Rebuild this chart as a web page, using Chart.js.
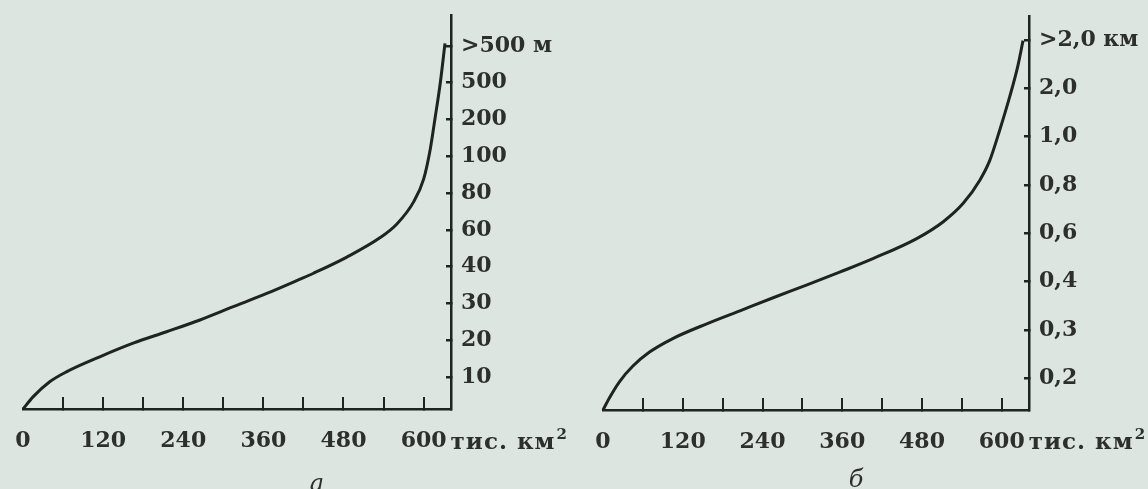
<!DOCTYPE html>
<html>
<head>
<meta charset="utf-8">
<script src="https://cdn.jsdelivr.net/npm/chart.js@4.4.1/dist/chart.umd.min.js"></script>
<style>
  html, body { margin: 0; padding: 0; background: #dde5e1; }
  #wrap { position: relative; width: 1148px; height: 489px; overflow: hidden; }
  canvas { position: absolute; top: 0; }
  #chartA { left: 0; }
  #chartB { left: 580px; }
</style>
</head>
<body>
<div id="wrap">
  <canvas id="chartA" width="580" height="489"></canvas>
  <canvas id="chartB" width="568" height="489"></canvas>
</div>
<script>
// a: площа (тис. км2) вище заданої висоти, висоти в метрах
const areaA  = [0, 15, 40, 65, 115, 165, 215, 265, 315, 365, 415, 435, 485, 535, 560, 585, 600, 610, 617, 625, 632];
const levelA = [0.13, 0.46, 0.87, 1.14, 1.55, 1.92, 2.23, 2.55, 2.91, 3.27, 3.66, 3.82, 4.26, 4.79, 5.16, 5.76, 6.38, 7.2, 8.02, 9.0, 10.07];
const ticksA = ['10', '20', '30', '40', '60', '80', '100', '200', '500', '>500 м'];

// б: те саме, висоти в кілометрах
const areaB  = [0, 10, 25, 45, 70, 105, 157, 207, 257, 307, 357, 407, 472, 512, 542, 567, 582, 597, 612, 624, 632];
const levelB = [0.34, 0.6, 0.93, 1.25, 1.54, 1.82, 2.13, 2.4, 2.67, 2.93, 3.2, 3.48, 3.89, 4.24, 4.62, 5.1, 5.51, 6.14, 6.83, 7.45, 7.99];
const ticksB = ['0,2', '0,3', '0,4', '0,6', '0,8', '1,0', '2,0', '>2,0 км'];

const ink = '#1f2321';
const textInk = '#2c2f2d';
const labelFont = { family: '"DejaVu Serif", serif', size: 22, weight: 'bold' };

// підпис одиниць і літера панелі
const decor = {
  id: 'decor',
  afterDraw(chart, args, opts) {
    const { ctx } = chart;
    const x = chart.scales.x;
    ctx.save();
    ctx.fillStyle = textInk;
    ctx.font = 'bold 22px "DejaVu Serif", serif';
    ctx.textAlign = 'left';
    ctx.textBaseline = 'alphabetic';
    let p = x.getPixelForValue(600) + ctx.measureText('600').width / 2 + 4;
    ctx.letterSpacing = '1px';
    ctx.font = 'bold 23px "DejaVu Serif", serif';
    ctx.fillText('тис. км', p, opts.unitY);
    p += ctx.measureText('тис. км').width + 1;
    ctx.letterSpacing = '0px';
    ctx.font = 'bold 15px "DejaVu Serif", serif';
    ctx.fillText('2', p, opts.unitY - 10);
    ctx.font = 'italic 24px "DejaVu Serif", serif';
    ctx.textAlign = 'center';
    ctx.fillText(opts.letter, opts.letterX, opts.letterY);
    ctx.restore();
  }
};

function noPad(s) {
  s.paddingLeft = 0;
  s.paddingRight = 0;
  s.paddingTop = 0;
  s.paddingBottom = 0;
}

function makeChart(id, cfg) {
  return new Chart(document.getElementById(id), {
    type: 'line',
    data: {
      datasets: [{
        data: cfg.area.map((a, i) => ({ x: a, y: cfg.level[i] })),
        borderColor: ink,
        borderWidth: 3,
        pointRadius: 0,
        cubicInterpolationMode: 'monotone',
        clip: false
      }]
    },
    options: {
      responsive: false,
      animation: false,
      devicePixelRatio: 1,
      layout: { padding: { left: cfg.padLeft, top: cfg.padTop, right: 0, bottom: 0 } },
      plugins: {
        legend: { display: false },
        tooltip: { enabled: false },
        decor: { unitY: 449, letter: cfg.letter, letterX: cfg.letterX, letterY: cfg.letterY }
      },
      scales: {
        x: {
          type: 'linear',
          position: 'bottom',
          min: 0,
          max: 641,
          afterFit(s) { s.height = cfg.axisH; noPad(s); },
          border: { color: ink, width: 2.5 },
          grid: {
            drawOnChartArea: false,
            tickLength: -12,
            lineWidth: 2,
            color: c => (c.tick && c.tick.value === 0) ? 'rgba(0,0,0,0)' : ink
          },
          ticks: {
            stepSize: 60,
            includeBounds: false,
            autoSkip: false,
            maxRotation: 0,
            padding: 31,
            color: textInk,
            font: labelFont,
            callback: v => (v % 120 === 0 ? String(v) : '')
          }
        },
        y: {
          type: 'linear',
          position: 'right',
          min: cfg.yMin,
          max: cfg.yMax,
          afterFit(s) { s.width = cfg.axisW; noPad(s); },
          afterBuildTicks(s) { s.ticks = cfg.labels.map((_, i) => ({ value: i + 1 })); },
          border: { color: ink, width: 2.5 },
          grid: { drawOnChartArea: false, tickLength: -5, lineWidth: 2.5, color: ink },
          ticks: {
            autoSkip: false,
            padding: 15,
            color: textInk,
            font: labelFont,
            callback: v => cfg.labels[Math.round(v) - 1]
          }
        }
      }
    },
    plugins: [decor]
  });
}

makeChart('chartA', {
  area: areaA, level: levelA, labels: ticksA,
  yMin: 0.13, yMax: 10.84,
  padLeft: 23, padTop: 15, axisW: 129, axisH: 80,
  letter: 'а', letterX: 317, letterY: 491
});

makeChart('chartB', {
  area: areaB, level: levelB, labels: ticksB,
  yMin: 0.34, yMax: 8.5,
  padLeft: 23, padTop: 16, axisW: 119, axisH: 79,
  letter: 'б', letterX: 276, letterY: 487
});
</script>
</body>
</html>
